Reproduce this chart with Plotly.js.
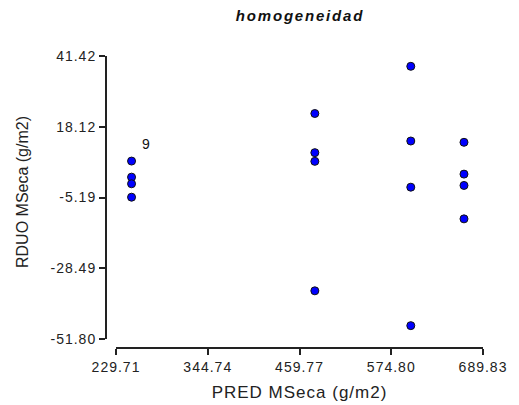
<!DOCTYPE html>
<html>
<head>
<meta charset="utf-8">
<script src="https://cdn.plot.ly/plotly-3.0.1.min.js"></script>
<style>
html,body{margin:0;padding:0;background:#fff;}
#chart{width:519px;height:405px;}
#chart .xtick text, #chart .ytick text{letter-spacing:1px;}
#chart .gtitle{letter-spacing:1.8px;}
#chart .xtitle{letter-spacing:1px;}
#chart .annotation-text-g .annotation:first-child text{letter-spacing:0.6px;}
</style>
</head>
<body>
<div id="chart"></div>
<script>
const predX = [249.2, 249.2, 249.2, 249.2, 479.0, 479.0, 479.0, 479.0, 599.3, 599.3, 599.3, 599.3, 666.0, 666.0, 666.0, 666.0];
const residY = [6.81, 1.52, -0.66, -5.09, 22.48, 9.59, 6.71, -35.93, 38.02, 13.42, -1.79, -47.40, 12.99, 2.51, -1.22, -12.23];
const xTicks = [229.71, 344.74, 459.77, 574.80, 689.83];
const yTicks = [-51.80, -28.49, -5.19, 18.12, 41.42];
const labelText = '9';
const labelX = 249.2;
const labelY = 6.81;

const fmt = v => v.toFixed(2);
const L = 106, R = 483, T = 56, B = 348;
const W = 519, H = 405;
const plotW = R - L, plotH = B - T;

Plotly.newPlot('chart', [{
  type: 'scatter', mode: 'markers', x: predX, y: residY,
  marker: {size: 8, color: '#0000ff', line: {color: '#111', width: 1}},
  hoverinfo: 'x+y', showlegend: false
}], {
  width: W, height: H,
  margin: {l: L, r: W - R, t: T, b: H - B, pad: 0},
  paper_bgcolor: '#fff', plot_bgcolor: '#fff',
  font: {family: 'Liberation Sans, Arial, sans-serif', color: '#222', size: 14},
  title: {text: 'homogeneidad', x: 300 / W, xanchor: 'center', y: 1 - 16 / H, yanchor: 'middle',
    font: {size: 15, style: 'italic', weight: 'bold', color: '#111'}},
  xaxis: {
    domain: [(116 - L) / plotW, 1], anchor: 'free', position: 0,
    range: [229.71, 689.83], tickvals: xTicks, ticktext: xTicks.map(fmt),
    showgrid: false, zeroline: false, showline: true, linecolor: '#222', linewidth: 2,
    ticks: 'outside', ticklen: 6, tickwidth: 2, tickcolor: '#222',
    tickfont: {size: 14},
    title: {text: 'PRED MSeca (g/m2)', font: {size: 17}, standoff: 11}
  },
  yaxis: {
    domain: [(B - 339) / plotH, 1], anchor: 'free', position: 0,
    range: [-51.80, 41.42], tickvals: yTicks, ticktext: yTicks.map(fmt),
    showgrid: false, zeroline: false, showline: true, linecolor: '#222', linewidth: 2,
    ticks: 'outside', ticklen: 6, tickwidth: 2, tickcolor: '#222',
    tickfont: {size: 14}
  },
  annotations: [
    {xref: 'paper', yref: 'paper', x: (22.5 - L) / plotW, y: (B - 192.5) / plotH,
     xanchor: 'center', yanchor: 'middle', textangle: -90, text: 'RDUO MSeca (g/m2)',
     showarrow: false, font: {size: 16, color: '#222'}},
    {x: labelX, y: labelY, xref: 'x', yref: 'y', text: labelText, showarrow: false,
     xshift: 14, yshift: 17, font: {size: 14, color: '#111'}}
  ]
}, {displayModeBar: false, staticPlot: true});
</script>
</body>
</html>
